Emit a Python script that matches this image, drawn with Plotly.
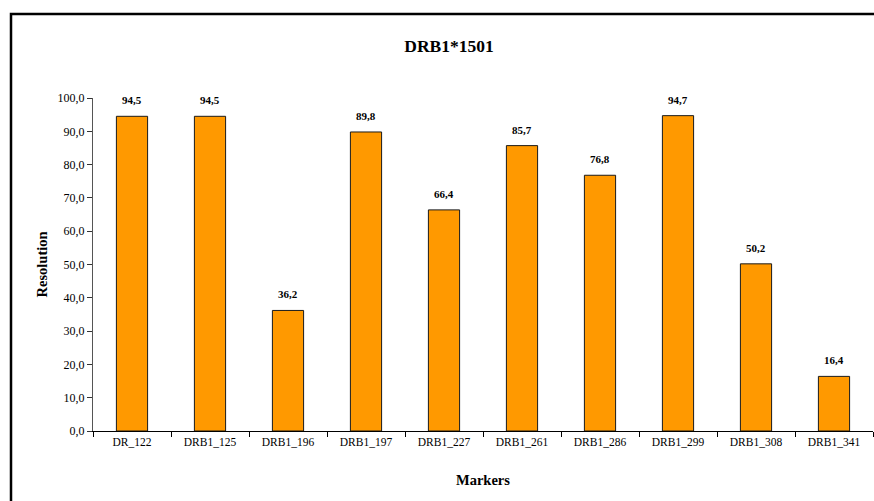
import plotly.graph_objects as go

# Marker resolution values for allele DRB1*1501
markers = ["DR_122", "DRB1_125", "DRB1_196", "DRB1_197", "DRB1_227",
           "DRB1_261", "DRB1_286", "DRB1_299", "DRB1_308", "DRB1_341"]
resolution = [94.5, 94.5, 36.2, 89.8, 66.4, 85.7, 76.8, 94.7, 50.2, 16.4]
y_ticks = [0, 10, 20, 30, 40, 50, 60, 70, 80, 90, 100]

FONT = "Liberation Serif, DejaVu Serif, serif"
W, H = 874, 501

fig = go.Figure()
fig.add_trace(go.Bar(
    x=markers,
    y=resolution,
    marker=dict(color="#FF9900", line=dict(color="#1a1a1a", width=1)),
    width=0.4,
    hoverinfo="x+y",
))

# value labels above each bar
labels = []
for m, v in zip(markers, resolution):
    labels.append(dict(
        x=m, y=v, text="<b>" + f"{v:.1f}".replace(".", ",") + "</b>",
        showarrow=False, yanchor="bottom", yshift=8,
        font=dict(family=FONT, size=11, color="#000000"),
    ))

labels += [
    dict(text="<b>Resolution</b>", textangle=-90,
         x=(41 - 93) / 780, xref="paper", y=0.5, yref="paper",
         xanchor="center", yanchor="middle", showarrow=False,
         font=dict(family=FONT, size=14.5, color="#000000")),
    dict(text="<b>Markers</b>",
         x=0.5, xref="paper", y=(431 - 480) / 333, yref="paper",
         xanchor="center", yanchor="middle", showarrow=False,
         font=dict(family=FONT, size=14.5, color="#000000")),
]

fig.update_layout(
    width=W, height=H,
    margin=dict(l=93, r=1, t=98, b=70),
    paper_bgcolor="white", plot_bgcolor="white",
    separators=",.",
    showlegend=False,
    font=dict(family=FONT, color="#000000"),
    title=dict(
        text="<b>DRB1*1501</b>",
        x=(449 - 93) / 780, xref="paper", xanchor="center",
        y=1 - 46 / H, yref="container", yanchor="middle",
        font=dict(family=FONT, size=17.5, color="#000000"),
    ),
    xaxis=dict(
        type="category",
        showgrid=False,
        showline=True, linecolor="#000000", linewidth=1,
        ticks="outside", ticklen=5, tickcolor="#000000", tickwidth=1,
        tickson="boundaries",
        tickfont=dict(family=FONT, size=11.5, color="#000000"),
        zeroline=False,
    ),
    yaxis=dict(
        range=[0, 100],
        tickvals=y_ticks,
        tickformat=".1f",
        showgrid=False,
        showline=True, linecolor="#555555", linewidth=1,
        ticks="outside", ticklen=5, tickcolor="#333333", tickwidth=1,
        tickfont=dict(family=FONT, size=12, color="#000000"),
        zeroline=False,
    ),
    annotations=labels,
    shapes=[
        # outer chart frame, running off the right and bottom edges
        dict(type="rect", xref="paper", yref="paper",
             x0=(11 - 93) / 780, x1=(890 - 93) / 780,
             y0=(431 - 520) / 333, y1=(431 - 14) / 333,
             line=dict(color="#000000", width=2.5), fillcolor="rgba(0,0,0,0)"),
    ],
)

fig.write_html("out.html")
